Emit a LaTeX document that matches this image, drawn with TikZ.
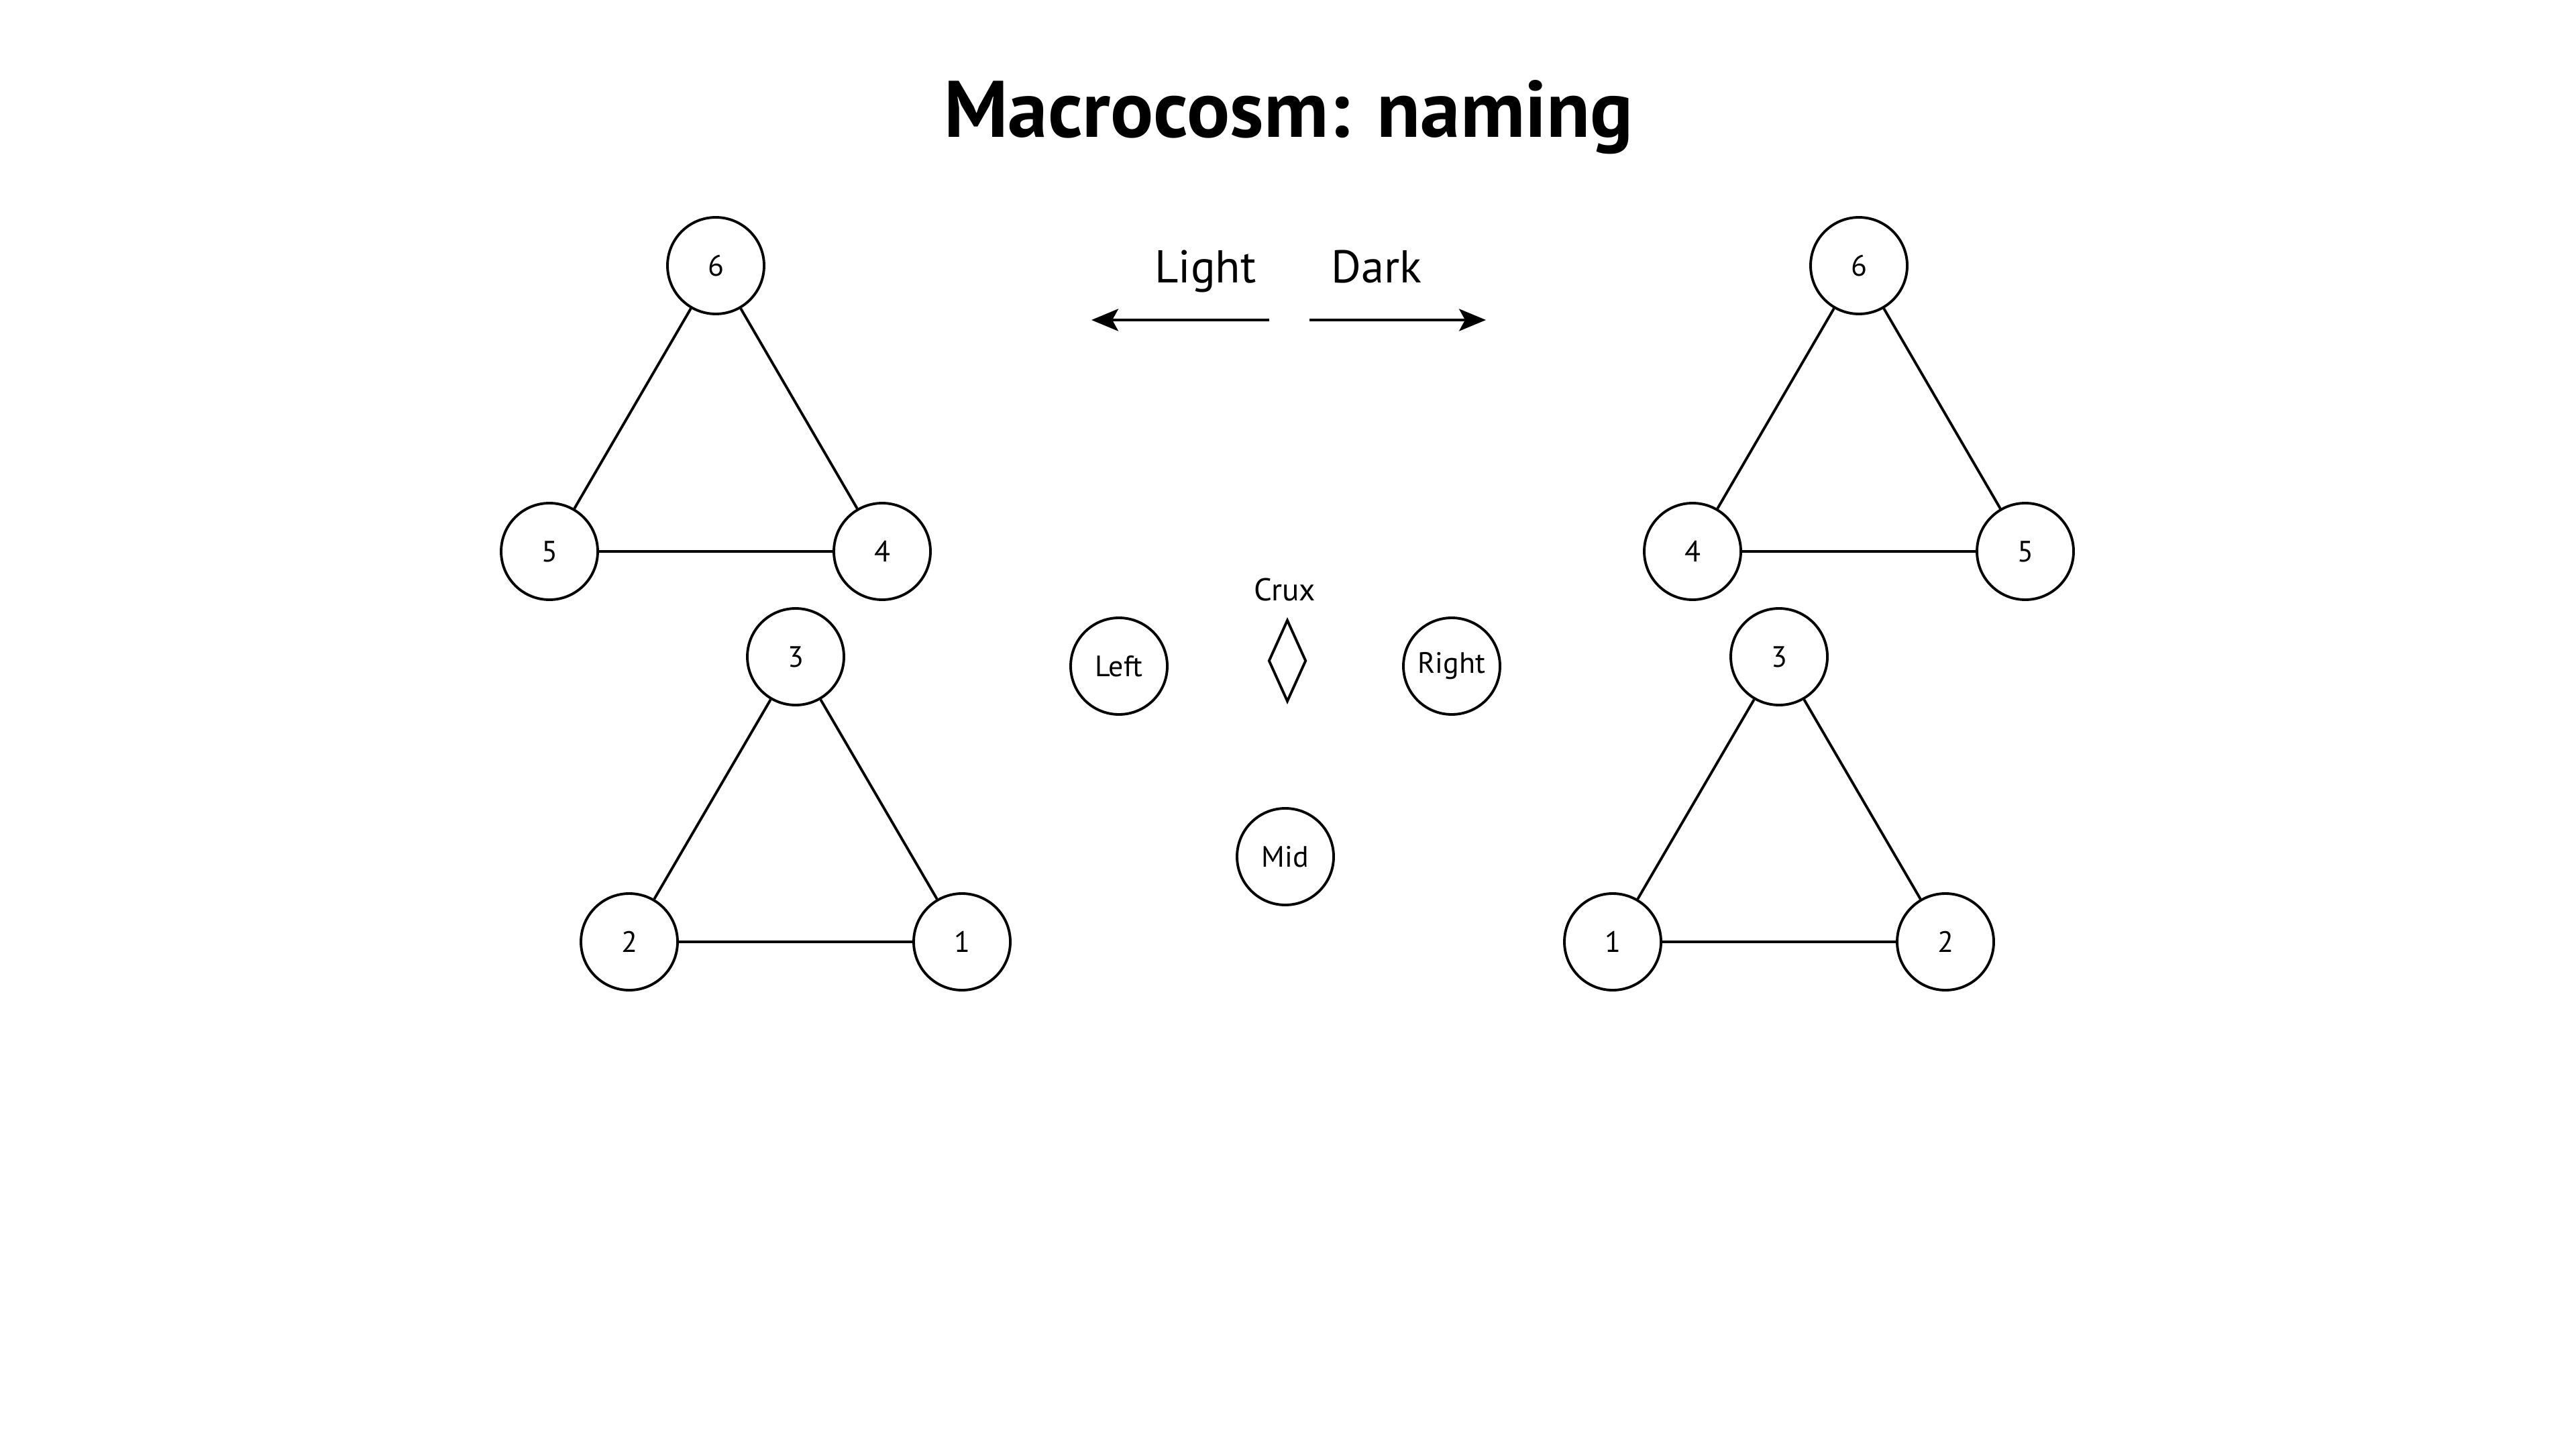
\documentclass[tikz,border=0pt]{standalone}
\usepackage{fontspec}
\setmainfont{PT Sans}
\usetikzlibrary{arrows.meta,shapes.geometric}

\tikzset{
  vertex/.style={circle, draw, line width=1.1pt, minimum size=1.44cm, inner sep=0pt,
    font=\fontsize{12.5pt}{14pt}\selectfont},
  edge/.style={line width=1.1pt},
  sidearrow/.style={line width=1.1pt, -{Stealth[length=0.4cm,width=0.33cm,inset=0.09cm]}}
}

\begin{document}
\begin{tikzpicture}
          \useasboundingbox (0,0) rectangle (38.4,-21.6);

          \node (title) [anchor=base, font=\fontsize{34pt}{38pt}\selectfont\bfseries]
            at (19.21,-2.05) {Macrocosm: naming};

          % Light / Dark
          \node (light) [anchor=base, font=\fontsize{19.5pt}{22pt}\selectfont] at (17.97,-4.216) {Light};
          \node (dark) [anchor=base, font=\fontsize{19.5pt}{22pt}\selectfont] at (20.52,-4.216) {Dark};
          \coordinate (lightfrom) at (18.92,-4.77);
          \coordinate (lightto) at (16.27,-4.77);
          \coordinate (darkfrom) at (19.52,-4.77);
          \coordinate (darkto) at (22.15,-4.77);
          \draw[sidearrow] (lightfrom) -- (lightto);
          \draw[sidearrow] (darkfrom) -- (darkto);

          % Left triangles
          \node[vertex] (l6) at (10.67,-3.96) {6};
          \node[vertex] (l5) at (8.19,-8.22) {5};
          \node[vertex] (l4) at (13.15,-8.22) {4};
          \node[vertex] (l3) at (11.86,-9.79) {3};
          \node[vertex] (l2) at (9.38,-14.04) {2};
          \node[vertex] (l1) at (14.34,-14.04) {1};
          \draw[edge] (l6) -- (l5) -- (l4) -- (l6);
          \draw[edge] (l3) -- (l2) -- (l1) -- (l3);

          % Right triangles
          \node[vertex] (r6) at (27.71,-3.96) {6};
          \node[vertex] (r4) at (25.23,-8.22) {4};
          \node[vertex] (r5) at (30.19,-8.22) {5};
          \node[vertex] (r3) at (26.52,-9.79) {3};
          \node[vertex] (r1) at (24.04,-14.04) {1};
          \node[vertex] (r2) at (29.00,-14.04) {2};
          \draw[edge] (r6) -- (r4) -- (r5) -- (r6);
          \draw[edge] (r3) -- (r1) -- (r2) -- (r3);

          % Centre
          \node[vertex] (left) at (16.68,-9.93) {Left};
          \node[vertex] (right) at (21.64,-9.93) {Right};
          \node[vertex] (mid) at (19.16,-12.77) {Mid};
          \node (crux) [diamond, draw, line width=1.1pt, inner sep=0pt,
            minimum width=0.56cm, minimum height=1.22cm] at (19.19,-9.85) {};
          \node (cruxlabel) [anchor=base, font=\fontsize{13.4pt}{15pt}\selectfont]
            at (19.15,-8.954) {Crux};
        \end{tikzpicture}
\end{document}
